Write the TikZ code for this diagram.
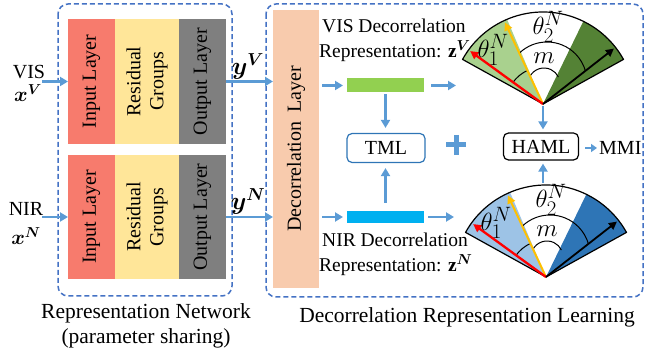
\documentclass[tikz,border=0pt]{standalone}
\usepackage{amsmath,bm}
\usepackage{fontspec}
\setmainfont{Liberation Serif}
\usetikzlibrary{arrows.meta,calc}
\definecolor{dashblue}{HTML}{4472C4}
\definecolor{arrblue}{HTML}{5B9BD5}
\definecolor{inred}{HTML}{F77B6D}
\definecolor{resyel}{HTML}{FFE699}
\definecolor{outgray}{HTML}{7F7F7F}
\definecolor{decpeach}{HTML}{F8CBAD}
\definecolor{zgreen}{HTML}{92D050}
\definecolor{zblue}{HTML}{00B0F0}
\definecolor{lgreen}{HTML}{A9D18E}
\definecolor{dgreen}{HTML}{548235}
\definecolor{lblue}{HTML}{9DC3E6}
\definecolor{dblue}{HTML}{2E75B6}
\definecolor{tmlblue}{HTML}{2E75B6}
\definecolor{yarrow}{HTML}{FFC000}
\begin{document}
\begin{tikzpicture}[x=1pt,y=-1pt,
  font=\fontsize{20}{24}\selectfont,
  blk/.style={draw=none, inner sep=0pt, outer sep=0pt},
  dashbox/.style={draw=dashblue, line width=1.5pt, dash pattern=on 5pt off 3pt, rounded corners=10pt},
  arr/.style={draw=arrblue, line width=2.5pt, -{Triangle[length=8pt,width=9pt]}},
  rlabel/.style={rotate=90, inner sep=0pt},
  smalltxt/.style={font=\fontsize{19.5}{23}\selectfont, inner sep=0pt},
  captxt/.style={font=\fontsize{21.5}{25}\selectfont, inner sep=0pt},
  mathtxt/.style={font=\fontsize{28}{32}\selectfont, inner sep=0pt},
  lossbox/.style={rounded corners=5pt, line width=1.2pt, inner sep=0pt, minimum width=#1, minimum height=29pt},
  sarr/.style={line width=2.3pt, -{Triangle[length=8pt,width=8pt]}},
  anglearc/.style={line width=1pt},
]
\useasboundingbox (0,0) rectangle (645,355);

% dashed containers
\draw[dashbox] (58,4) rectangle (232,296);
\draw[dashbox] (266,4) rectangle (643,297);

% representation network blocks
\node[blk, fill=inred, minimum width=47pt, minimum height=125pt] (inV) at (91.5,81.5) {};
\node[blk, fill=resyel, minimum width=64pt, minimum height=125pt] (resV) at (147,81.5) {};
\node[blk, fill=outgray, minimum width=47pt, minimum height=125pt] (outV) at (202.5,81.5) {};
\node[blk, fill=inred, minimum width=47pt, minimum height=124pt] (inN) at (91.5,217) {};
\node[blk, fill=resyel, minimum width=64pt, minimum height=124pt] (resN) at (147,217) {};
\node[blk, fill=outgray, minimum width=47pt, minimum height=124pt] (outN) at (202.5,217) {};
\node[rlabel] (tinV) at (inV) {Input Layer};
\node[rlabel, align=center, font=\fontsize{20}{23}\selectfont] (tresV) at (resV) {Residual\\Groups};
\node[rlabel] (toutV) at (outV) {Output Layer};
\node[rlabel] (tinN) at (inN) {Input Layer};
\node[rlabel, align=center, font=\fontsize{20}{23}\selectfont] (tresN) at (resN) {Residual\\Groups};
\node[rlabel] (toutN) at (outN) {Output Layer};

% inputs
\node[anchor=base, inner sep=0pt] (vis) at (29,79) {VIS};
\node[anchor=base, inner sep=0pt, font=\fontsize{22}{26}\selectfont] (xV) at (28,102) {$\boldsymbol{x}^{\boldsymbol{V}}$};
\node[anchor=base, inner sep=0pt] (nir) at (26,216) {NIR};
\node[anchor=base, inner sep=0pt, font=\fontsize{22}{26}\selectfont] (xN) at (26,245) {$\boldsymbol{x}^{\boldsymbol{N}}$};
\coordinate (visin) at (42,81.5);
\coordinate (nirin) at (42,217);
\draw[arr] (visin) -- (inV.west);
\draw[arr] (nirin) -- (inN.west);

% decorrelation layer
\node[blk, fill=decpeach, minimum width=46pt, minimum height=278pt] (dec) at (296,149) {};
\node[rlabel] (tdec) at (dec) {Decorrelation\hspace{0.45em}Layer};

\draw[arr] (outV.east) -- (outV.east -| dec.west);
\draw[arr] (outN.east) -- (outN.east -| dec.west);
\node[anchor=base, inner sep=0pt, font=\fontsize{24}{28}\selectfont] (yV) at (248,75) {$\boldsymbol{y}^{\boldsymbol{V}}$};
\node[anchor=base, inner sep=0pt, font=\fontsize{24}{28}\selectfont] (yN) at (248,210) {$\boldsymbol{y}^{\boldsymbol{N}}$};

% decorrelation representations
\node[blk, fill=zgreen, minimum width=77pt, minimum height=14pt] (gbar) at (385.5,85.5) {};
\node[blk, fill=zblue, minimum width=77pt, minimum height=12pt] (bbar) at (385.5,217) {};
\coordinate (gV) at (456,85.5);
\coordinate (bN) at (454,217);
\draw[arr, shorten <=3pt, shorten >=4pt] (dec.east |- gbar) -- (gbar.west);
\draw[arr, shorten <=3pt, shorten >=4pt] (dec.east |- bbar) -- (bbar.west);
\draw[arr, shorten <=7pt] (gbar.east) -- (gV);
\draw[arr, shorten <=4pt] (bbar.east) -- (bN);

\node[smalltxt, anchor=base west] (visd1) at (322,33) {VIS Decorrelation};
\node[smalltxt, anchor=base west] (visd2) at (319,58) {Representation: \textbf{z}$^{\boldsymbol{V}}$};
\node[smalltxt, anchor=base west] (nird1) at (322,247) {NIR Decorrelation};
\node[smalltxt, anchor=base west] (nird2) at (319,272) {Representation: \textbf{z}$^{\boldsymbol{N}}$};

% TML
\node[lossbox=78pt, draw=tmlblue] (tml) at (386,148) {TML};
\draw[arr, shorten <=2pt, shorten >=5pt] (gbar.south) -- (gbar.south |- tml.north);
\draw[arr, shorten <=8pt, shorten >=5pt] (bbar.north) -- (bbar.north |- tml.south);

% plus
\draw[arrblue, line width=5pt] (446,145) -- (466,145) (456,135) -- (456,155);

% sectors
\foreach \ax/\ay/\lc/\dc in {543/104/lgreen/dgreen, 546/277/lblue/dblue} {
  \begin{scope}[shift={(\ax,\ay)}]
    \fill[\lc] (0,0) -- (151:92pt) arc[start angle=151, end angle=113, radius=92pt] -- cycle;
    \fill[\dc] (0,0) -- (64:92pt) arc[start angle=64, end angle=29, radius=92pt] -- cycle;
    \draw[line width=1.2pt, line join=round] (0,0) -- (151:92pt) arc[start angle=151, end angle=29, radius=92pt] -- cycle;
    \draw[anglearc] (144:37pt) arc[start angle=144, end angle=115, radius=37pt];
    \draw[anglearc] ($(1,-20)+(154:16pt)$) arc[start angle=154, end angle=26, radius=16pt];
    \draw[anglearc] ($(4,-22)+(134:40pt)$) arc[start angle=134, end angle=16, radius=40pt];
    \draw[sarr, yarrow, line width=2pt] (0,0) -- (115:90pt);
    \draw[sarr, red] (0,0) -- (144:90pt);
    \draw[sarr, black, line width=1.8pt] (0,0) -- (38:90pt);
    \node[mathtxt] at (5,-77) {$\theta_2^N$};
    \node[mathtxt] at (-50,-54) {$\theta_1^N$};
    \node[mathtxt] at (1,-46) {$m$};
  \end{scope}
}
\coordinate (apexV) at (543,104);
\coordinate (arcN) at (543,184);

% HAML
\node[lossbox=75pt, draw=black, minimum height=27pt] (haml) at (541,146.5) {HAML};
\draw[arr, shorten <=2pt, shorten >=3pt] (apexV) -- (apexV |- haml.north);
\draw[arr, shorten <=1pt, shorten >=3pt] (arcN) -- (arcN |- haml.south);
\node[anchor=west, inner sep=0pt] (mmi) at (599,148) {MMI};
\draw[draw=arrblue, line width=2.5pt, -{Triangle[length=6pt,width=8pt]}, shorten <=6pt, shorten >=2pt] (haml.east |- mmi.west) -- (mmi.west);

% captions
\node[captxt, anchor=base] (cap1) at (146,318) {Representation Network};
\node[captxt, anchor=base] (cap2) at (146,343) {(parameter sharing)};
\node[captxt, anchor=base] (cap3) at (467,322) {Decorrelation Representation Learning};
\end{tikzpicture}
\end{document}
